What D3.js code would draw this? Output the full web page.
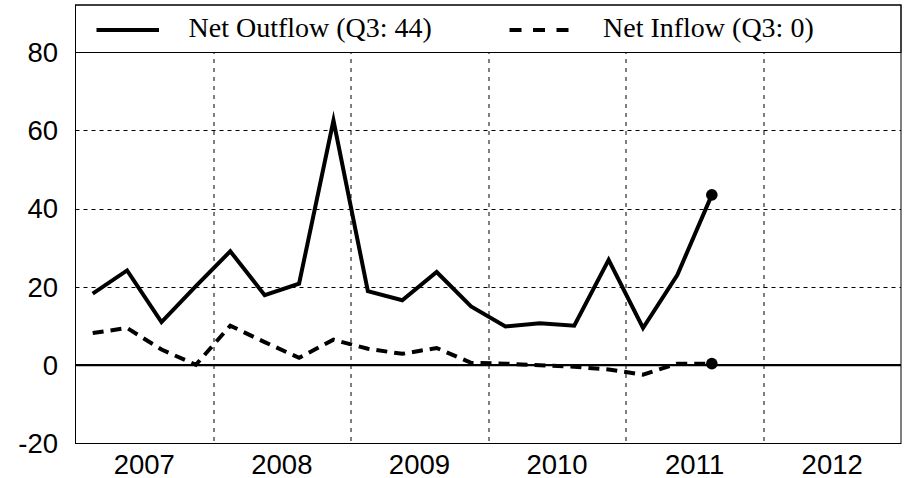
<!DOCTYPE html>
<html>
<head>
<meta charset="utf-8">
<script src="https://cdn.jsdelivr.net/npm/d3@7"></script>
<style>
  body { margin: 0; background: #fff; }
</style>
</head>
<body>
<div id="flows"></div>
<script>
//Data: quarterly values, 2007 Q1 to 2011 Q3
var quarters = ["2007Q1","2007Q2","2007Q3","2007Q4","2008Q1","2008Q2","2008Q3","2008Q4",
                "2009Q1","2009Q2","2009Q3","2009Q4","2010Q1","2010Q2","2010Q3","2010Q4",
                "2011Q1","2011Q2","2011Q3"];
var outflow = [18.3, 24.2, 11.0, 20.2, 29.1, 17.9, 20.8, 62.5, 18.9, 16.6, 23.8, 15.0,
               9.9, 10.7, 10.1, 26.9, 9.5, 23.1, 43.5];
var inflow = [8.2, 9.5, 4.0, 0.1, 10.1, 5.9, 1.9, 6.5, 4.2, 2.9, 4.4, 0.6,
              0.4, 0.0, -0.4, -1.1, -2.4, 0.4, 0.4];
var years = [2007, 2008, 2009, 2010, 2011, 2012];
var yTicks = [-20, 0, 20, 40, 60, 80];
var legendLabels = ["Net Outflow (Q3: 44)", "Net Inflow (Q3: 0)"];

//Set margins and sizes
var W = 904, H = 478;
var margin = {top: 5, right: 3, bottom: 34.5, left: 75.5};
var width = W - margin.left - margin.right;
var height = H - margin.top - margin.bottom;

var svg = d3.select("#flows").append("svg")
  .attr("width", W).attr("height", H);
var g = svg.append("g")
  .attr("transform", "translate(" + margin.left + "," + margin.top + ")");

//Scales
var x = d3.scaleLinear().domain([2007, 2013]).range([0, width]);
var y = d3.scaleLinear().domain([-20, 92]).range([height, 0]);

//quarter midpoint in year units
function qx(q) {
  var yr = +q.slice(0, 4), n = +q.slice(5);
  return x(yr + (n - 0.5) / 4);
}

//Gridlines
g.append("g").selectAll("line")
  .data(yTicks.filter(function(d){ return d != 0 && d != -20; }))
  .enter().append("line")
  .attr("x1", 0).attr("x2", width)
  .attr("y1", function(d){ return Math.round(y(d)) + 0.5; })
  .attr("y2", function(d){ return Math.round(y(d)) + 0.5; })
  .attr("stroke", "#000").attr("stroke-width", 1)
  .attr("stroke-dasharray", "4,4");
g.append("g").selectAll("line")
  .data(years.slice(1))
  .enter().append("line")
  .attr("x1", function(d){ return Math.round(x(d)) + 0.5; })
  .attr("x2", function(d){ return Math.round(x(d)) + 0.5; })
  .attr("y1", 0).attr("y2", height)
  .attr("stroke", "#000").attr("stroke-width", 1)
  .attr("stroke-dasharray", "4,5");

//Zero line
g.append("line")
  .attr("x1", 0).attr("x2", width)
  .attr("y1", y(0)).attr("y2", y(0))
  .attr("stroke", "#000").attr("stroke-width", 2.2);

//Series lines
var line = d3.line()
  .x(function(d){ return qx(d.q); })
  .y(function(d){ return y(d.v); });
var outData = quarters.map(function(q, i){ return {q: q, v: outflow[i]}; });
var inData = quarters.map(function(q, i){ return {q: q, v: inflow[i]}; });

g.append("path").datum(outData)
  .attr("d", line)
  .attr("fill", "none").attr("stroke", "#000")
  .attr("stroke-width", 4).attr("stroke-linejoin", "miter")
  .attr("stroke-miterlimit", 10);
g.append("path").datum(inData)
  .attr("d", line)
  .attr("fill", "none").attr("stroke", "#000")
  .attr("stroke-width", 4).attr("stroke-dasharray", "11,7");

//Last point markers
g.selectAll("circle.last")
  .data([outData[outData.length - 1], inData[inData.length - 1]])
  .enter().append("circle")
  .attr("class", "last")
  .attr("cx", function(d){ return qx(d.q); })
  .attr("cy", function(d){ return y(d.v); })
  .attr("r", 5.8).attr("fill", "#000");

//Legend box
var legY = Math.round(y(80)) + 0.5;
g.append("rect")
  .attr("x", 0).attr("y", 0)
  .attr("width", width).attr("height", legY)
  .attr("fill", "#fff").attr("stroke", "#000").attr("stroke-width", 1);
var legend = g.selectAll("g.leg")
  .data(legendLabels)
  .enter().append("g")
  .attr("class", "leg")
  .attr("transform", function(d, i){ return "translate(" + (i == 0 ? 21 : 434) + "," + 25 + ")"; });
legend.append("line")
  .attr("x1", 0).attr("x2", function(d, i){ return i == 0 ? 62.5 : 59; })
  .attr("y1", 0).attr("y2", 0)
  .attr("stroke", "#000").attr("stroke-width", 4)
  .attr("stroke-dasharray", function(d, i){ return i == 0 ? null : "12,11.5"; });
legend.append("text")
  .attr("x", function(d, i){ return i == 0 ? 92 : 93.5; })
  .attr("y", 6.5)
  .attr("font-family", "'Liberation Serif', 'Times New Roman', serif")
  .attr("font-size", 28)
  .attr("fill", "#000")
  .text(function(d){ return d; });

//Plot border
g.append("rect")
  .attr("x", 0).attr("y", 0)
  .attr("width", width).attr("height", height)
  .attr("fill", "none").attr("stroke", "#000").attr("stroke-width", 1);

//Axis labels
g.selectAll("text.ylab")
  .data(yTicks)
  .enter().append("text")
  .attr("class", "ylab")
  .attr("x", -17.5)
  .attr("y", function(d){ return y(d); })
  .attr("dy", "0.36em")
  .attr("text-anchor", "end")
  .attr("font-family", "'Liberation Sans', Arial, sans-serif")
  .attr("font-size", 27.5)
  .text(function(d){ return d; });
g.selectAll("text.xlab")
  .data(years)
  .enter().append("text")
  .attr("class", "xlab")
  .attr("x", function(d){ return x(d + 0.5); })
  .attr("y", height + 30)
  .attr("text-anchor", "middle")
  .attr("font-family", "'Liberation Sans', Arial, sans-serif")
  .attr("font-size", 27.5)
  .text(function(d){ return d; });
</script>
</body>
</html>
